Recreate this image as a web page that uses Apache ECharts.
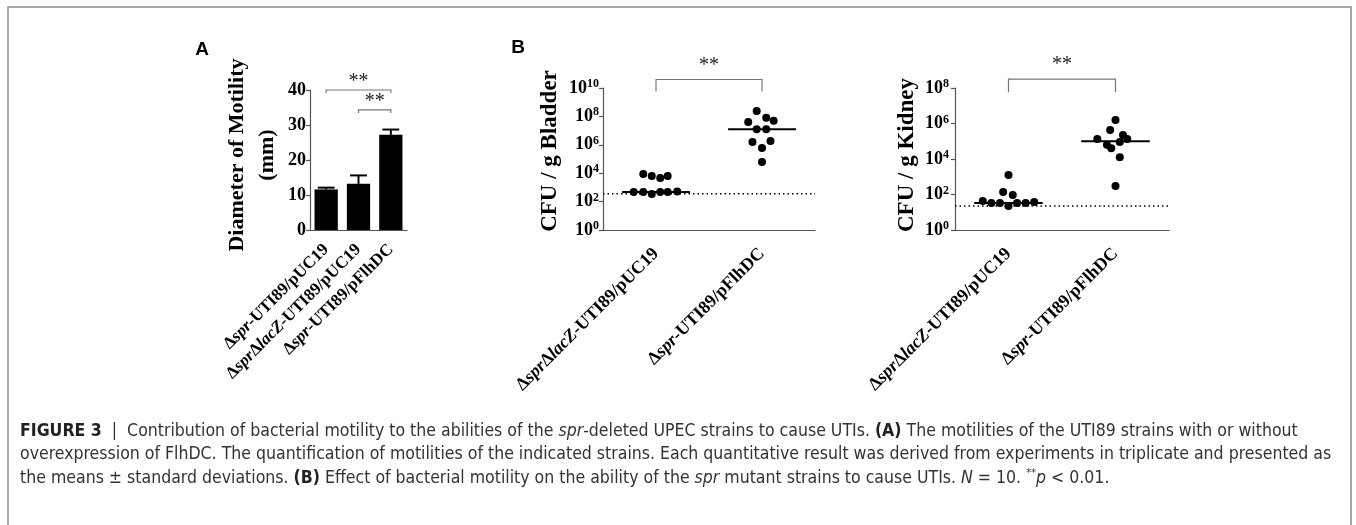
<!DOCTYPE html>
<html>
<head>
<meta charset="utf-8">
<title>Figure 3</title>
<script src="https://cdn.jsdelivr.net/npm/echarts@6/dist/echarts.min.js"></script>
<style>
  html, body { margin: 0; padding: 0; background: #fff; }
  #chart { width: 1356px; height: 525px; }
</style>
</head>
<body>
<div id="chart"></div>
<script>
// panel A: diameter of motility (mm), mean and SD
var strainsA = ['Δ{i|spr}-UTI89/pUC19', 'Δ{i|spr}Δ{i|lacZ}-UTI89/pUC19', 'Δ{i|spr}-UTI89/pFlhDC'];
var motilityMean = [11.6, 13.2, 27.2];
var motilitySd = [0.5, 2.4, 1.5];
// significance brackets A: [from category, y, to category]
var sigA = [[0, 40, 2], [1, 34.3, 2]];

// panel B: values as log10(CFU / g), x = jitter within the category
var strainsB = ['Δ{i|spr}Δ{i|lacZ}-UTI89/pUC19', 'Δ{i|spr}-UTI89/pFlhDC'];
var bladderCtrlLog = [3.94, 3.8, 3.66, 3.8, 2.68, 2.68, 2.53, 2.68, 2.68, 2.72];
var bladderCtrlX = [-0.12, -0.04, 0.04, 0.11, -0.21, -0.12, -0.04, 0.04, 0.11, 0.2];
var bladderFlhLog = [8.38, 7.9, 7.6, 7.7, 7.1, 7.1, 6.2, 6.27, 5.77, 4.79];
var bladderFlhX = [-0.05, 0.04, -0.13, 0.11, -0.05, 0.04, -0.09, 0.08, 0, 0];
var bladderMedianLog = [2.68, 7.1];
var bladderLimitLog = 2.55;
var bladderSigLog = 10.6;

var kidneyCtrlLog = [3.1, 2.14, 1.97, 1.63, 1.52, 1.52, 1.35, 1.52, 1.52, 1.58];
var kidneyCtrlX = [0, -0.05, 0.04, -0.24, -0.16, -0.08, 0, 0.08, 0.16, 0.24];
var kidneyFlhLog = [6.2, 5.63, 5.35, 5.13, 5.13, 4.8, 4.6, 4.96, 4.1, 2.48];
var kidneyFlhX = [0, -0.05, 0.07, -0.17, 0.11, -0.08, -0.04, 0.04, 0.04, 0];
var kidneyMedianLog = [1.52, 5.0];
var kidneyLimitLog = 1.35;
var kidneySigLog = 8.5;

var serif = "'Liberation Serif', 'Times New Roman', serif";
var sans = "'Liberation Sans', Arial, sans-serif";
var narrow = "'Liberation Sans Narrow', 'DejaVu Sans Condensed', 'Liberation Sans', sans-serif";

function zip(xs, ys) {
	return xs.map(function(x, i) { return [x, ys[i]] });
}

function catAxis(gridIndex, data, size, margin) {
	return {
		type: 'category',
		gridIndex: gridIndex,
		data: data,
		axisLine: { lineStyle: { color: '#555', width: 1.2 } },
		axisTick: { alignWithLabel: true, length: 5, lineStyle: { color: '#555', width: 1.2 } },
		axisLabel: {
			interval: 0,
			rotate: 45,
			margin: margin,
			color: '#000',
			fontSize: size,
			fontWeight: 'bold',
			fontFamily: serif,
			rich: {
				i: { fontStyle: 'italic', fontWeight: 'bold', fontSize: size, fontFamily: serif, color: '#000' }
			}
		}
	}
}

function logAxis(gridIndex, max, name, nameGap, shift, margin) {
	return {
		type: 'value',
		gridIndex: gridIndex,
		min: 0,
		max: max,
		interval: 2,
		name: name,
		nameLocation: 'middle',
		nameGap: nameGap,
		nameTextStyle: { fontSize: 23, fontWeight: 'bold', fontFamily: serif, color: '#000', padding: [0, 0, 0, shift] },
		axisLine: { show: true, onZero: false, lineStyle: { color: '#555', width: 1.2 } },
		axisTick: { show: true, length: 4, lineStyle: { color: '#555', width: 1.2 } },
		splitLine: { show: false },
		axisLabel: {
			margin: margin,
			color: '#000',
			fontSize: 18,
			lineHeight: 20,
			fontWeight: 'bold',
			fontFamily: serif,
			formatter: function(v) { return '10{s|' + v + '}' },
			rich: {
				s: { fontSize: 12, lineHeight: 12, verticalAlign: 'top', fontWeight: 'bold', fontFamily: serif, color: '#000' }
			}
		}
	}
}

function jitterAxis(gridIndex) {
	return { type: 'value', gridIndex: gridIndex, min: -0.5, max: 1.5, show: false }
}

// bracket with "**" above, data item [x1, y, x2]
function bracket(drop, gap) {
	return function(params, api) {
		var a = api.coord([api.value(0), api.value(1)]);
		var b = api.coord([api.value(2), api.value(1)]);
		return {
			type: 'group',
			children: [{
				type: 'polyline',
				shape: { points: [[a[0], a[1] + drop], a, b, [b[0], b[1] + drop]] },
				style: { stroke: '#777', lineWidth: 1.2, fill: null }
			}, {
				type: 'text',
				x: (a[0] + b[0]) / 2,
				y: a[1] - gap,
				style: { text: '**', fontSize: 20, fontFamily: serif, fill: '#222', align: 'center', verticalAlign: 'middle' }
			}]
		}
	}
}

function medianLine(params, api) {
	var a = api.coord([api.value(0) - 0.32, api.value(1)]);
	var b = api.coord([api.value(0) + 0.32, api.value(1)]);
	return {
		type: 'line',
		shape: { x1: a[0], y1: a[1], x2: b[0], y2: b[1] },
		style: { stroke: '#000', lineWidth: 2 }
	}
}

function dots(xAxisIndex, yAxisIndex, xs, ys) {
	return {
		type: 'scatter',
		xAxisIndex: xAxisIndex,
		yAxisIndex: yAxisIndex,
		data: zip(xs, ys),
		symbolSize: 8,
		itemStyle: { color: '#000', opacity: 1 },
		z: 4
	}
}

function limitLine(xAxisIndex, yAxisIndex, v) {
	return {
		type: 'line',
		xAxisIndex: xAxisIndex,
		yAxisIndex: yAxisIndex,
		data: [[-0.5, v], [1.5, v]],
		symbol: 'none',
		lineStyle: { color: '#000', width: 1.5, type: [1.5, 3] },
		z: 1
	}
}

var caption = [
	'{b|FIGURE 3}  |  Contribution of bacterial motility to the abilities of the {i|spr}-deleted UPEC strains to cause UTIs. {b|(A)} The motilities of the UTI89 strains with or without',
	'overexpression of FlhDC. The quantification of motilities of the indicated strains. Each quantitative result was derived from experiments in triplicate and presented as',
	'the means ± standard deviations. {b|(B)} Effect of bacterial motility on the ability of the {i|spr} mutant strains to cause UTIs. {i|N} = 10. {s|**}{i|p} < 0.01.'
];

var capSize = 17.55;
var captionRich = {
	b: { fontWeight: 'bold', fontSize: capSize, fontFamily: narrow, fill: '#222' },
	i: { fontStyle: 'italic', fontSize: capSize, fontFamily: narrow, fill: '#333' },
	s: { fontSize: 11, lineHeight: 11, verticalAlign: 'top', fontFamily: narrow, fill: '#333' }
};

var graphics = [{
	type: 'rect',
	shape: { x: 8, y: 7, width: 1343, height: 540 },
	style: { fill: null, stroke: '#8c8c8c', lineWidth: 1.5 },
	silent: true
}, {
	type: 'text', x: 202, y: 50,
	style: { text: 'A', fontSize: 19, fontWeight: 'bold', fontFamily: sans, fill: '#000', align: 'center', verticalAlign: 'middle' }
}, {
	type: 'text', x: 518, y: 48,
	style: { text: 'B', fontSize: 19, fontWeight: 'bold', fontFamily: sans, fill: '#000', align: 'center', verticalAlign: 'middle' }
}];
caption.forEach(function(line, i) {
	graphics.push({
		type: 'text', x: 20, y: 431 + i * 23.5,
		style: { text: line, rich: captionRich, fontSize: capSize, lineHeight: 20, fontFamily: narrow, fill: '#333', verticalAlign: 'middle' }
	});
});

var myChart = echarts.init(document.getElementById('chart'));
myChart.setOption({
	animation: false,
	backgroundColor: '#fff',
	graphic: graphics,
	grid: [
		{ left: 310, top: 90, width: 97, height: 140 },
		{ left: 603, top: 88, width: 212, height: 142 },
		{ left: 955, top: 88, width: 214, height: 142 }
	],
	xAxis: [
		catAxis(0, strainsA, 17, 17),
		catAxis(1, strainsB, 18, 21),
		jitterAxis(1),
		catAxis(2, strainsB, 18, 21),
		jitterAxis(2)
	],
	yAxis: [{
			type: 'value',
			gridIndex: 0,
			min: 0,
			max: 40,
			interval: 10,
			name: 'Diameter of Motility\n(mm)',
			nameLocation: 'middle',
			nameGap: 28,
			nameTextStyle: { fontSize: 22, lineHeight: 30, fontWeight: 'bold', fontFamily: serif, color: '#000', padding: [0, 0, 0, 10] },
			axisLine: { show: true, onZero: false, lineStyle: { color: '#555', width: 1.2 } },
			axisTick: { show: true, length: 4, lineStyle: { color: '#555', width: 1.2 } },
			splitLine: { show: false },
			axisLabel: { margin: 4, color: '#000', fontSize: 18, fontWeight: 'bold', fontFamily: serif }
		},
		logAxis(1, 10, 'CFU / g Bladder', 41, 16, 4),
		logAxis(2, 8, 'CFU / g Kidney', 36, 8, 6)
	],
	series: [{
			type: 'bar',
			xAxisIndex: 0,
			yAxisIndex: 0,
			data: motilityMean,
			barWidth: '72%',
			itemStyle: { color: '#000' }
		},
		{
			type: 'custom',
			xAxisIndex: 0,
			yAxisIndex: 0,
			data: motilityMean.map(function(m, i) { return [i, m, motilitySd[i]] }),
			renderItem: function(params, api) {
				var base = api.coord([api.value(0), api.value(1)]);
				var top = api.coord([api.value(0), api.value(1) + api.value(2)]);
				var w = api.size([1, 0])[0] * 0.26;
				return {
					type: 'group',
					children: [{
						type: 'line',
						shape: { x1: base[0], y1: base[1], x2: top[0], y2: top[1] },
						style: { stroke: '#000', lineWidth: 2 }
					}, {
						type: 'line',
						shape: { x1: top[0] - w, y1: top[1], x2: top[0] + w, y2: top[1] },
						style: { stroke: '#000', lineWidth: 2 }
					}]
				}
			},
			z: 3
		},
		{
			type: 'custom',
			xAxisIndex: 0,
			yAxisIndex: 0,
			data: sigA,
			renderItem: bracket(3, 8)
		},
		// bladder
		limitLine(2, 1, bladderLimitLog),
		dots(2, 1, bladderCtrlX, bladderCtrlLog),
		dots(2, 1, bladderFlhX.map(function(x) { return x + 1 }), bladderFlhLog),
		{
			type: 'custom',
			xAxisIndex: 2,
			yAxisIndex: 1,
			data: zip([0, 1], bladderMedianLog),
			renderItem: medianLine,
			z: 5
		},
		{
			type: 'custom',
			xAxisIndex: 2,
			yAxisIndex: 1,
			data: [[0, bladderSigLog, 1]],
			renderItem: bracket(12, 14)
		},
		// kidney
		limitLine(4, 2, kidneyLimitLog),
		dots(4, 2, kidneyCtrlX, kidneyCtrlLog),
		dots(4, 2, kidneyFlhX.map(function(x) { return x + 1 }), kidneyFlhLog),
		{
			type: 'custom',
			xAxisIndex: 4,
			yAxisIndex: 2,
			data: zip([0, 1], kidneyMedianLog),
			renderItem: medianLine,
			z: 5
		},
		{
			type: 'custom',
			xAxisIndex: 4,
			yAxisIndex: 2,
			data: [[0, kidneySigLog, 1]],
			renderItem: bracket(13, 14)
		}
	]
});
</script>
</body>
</html>
